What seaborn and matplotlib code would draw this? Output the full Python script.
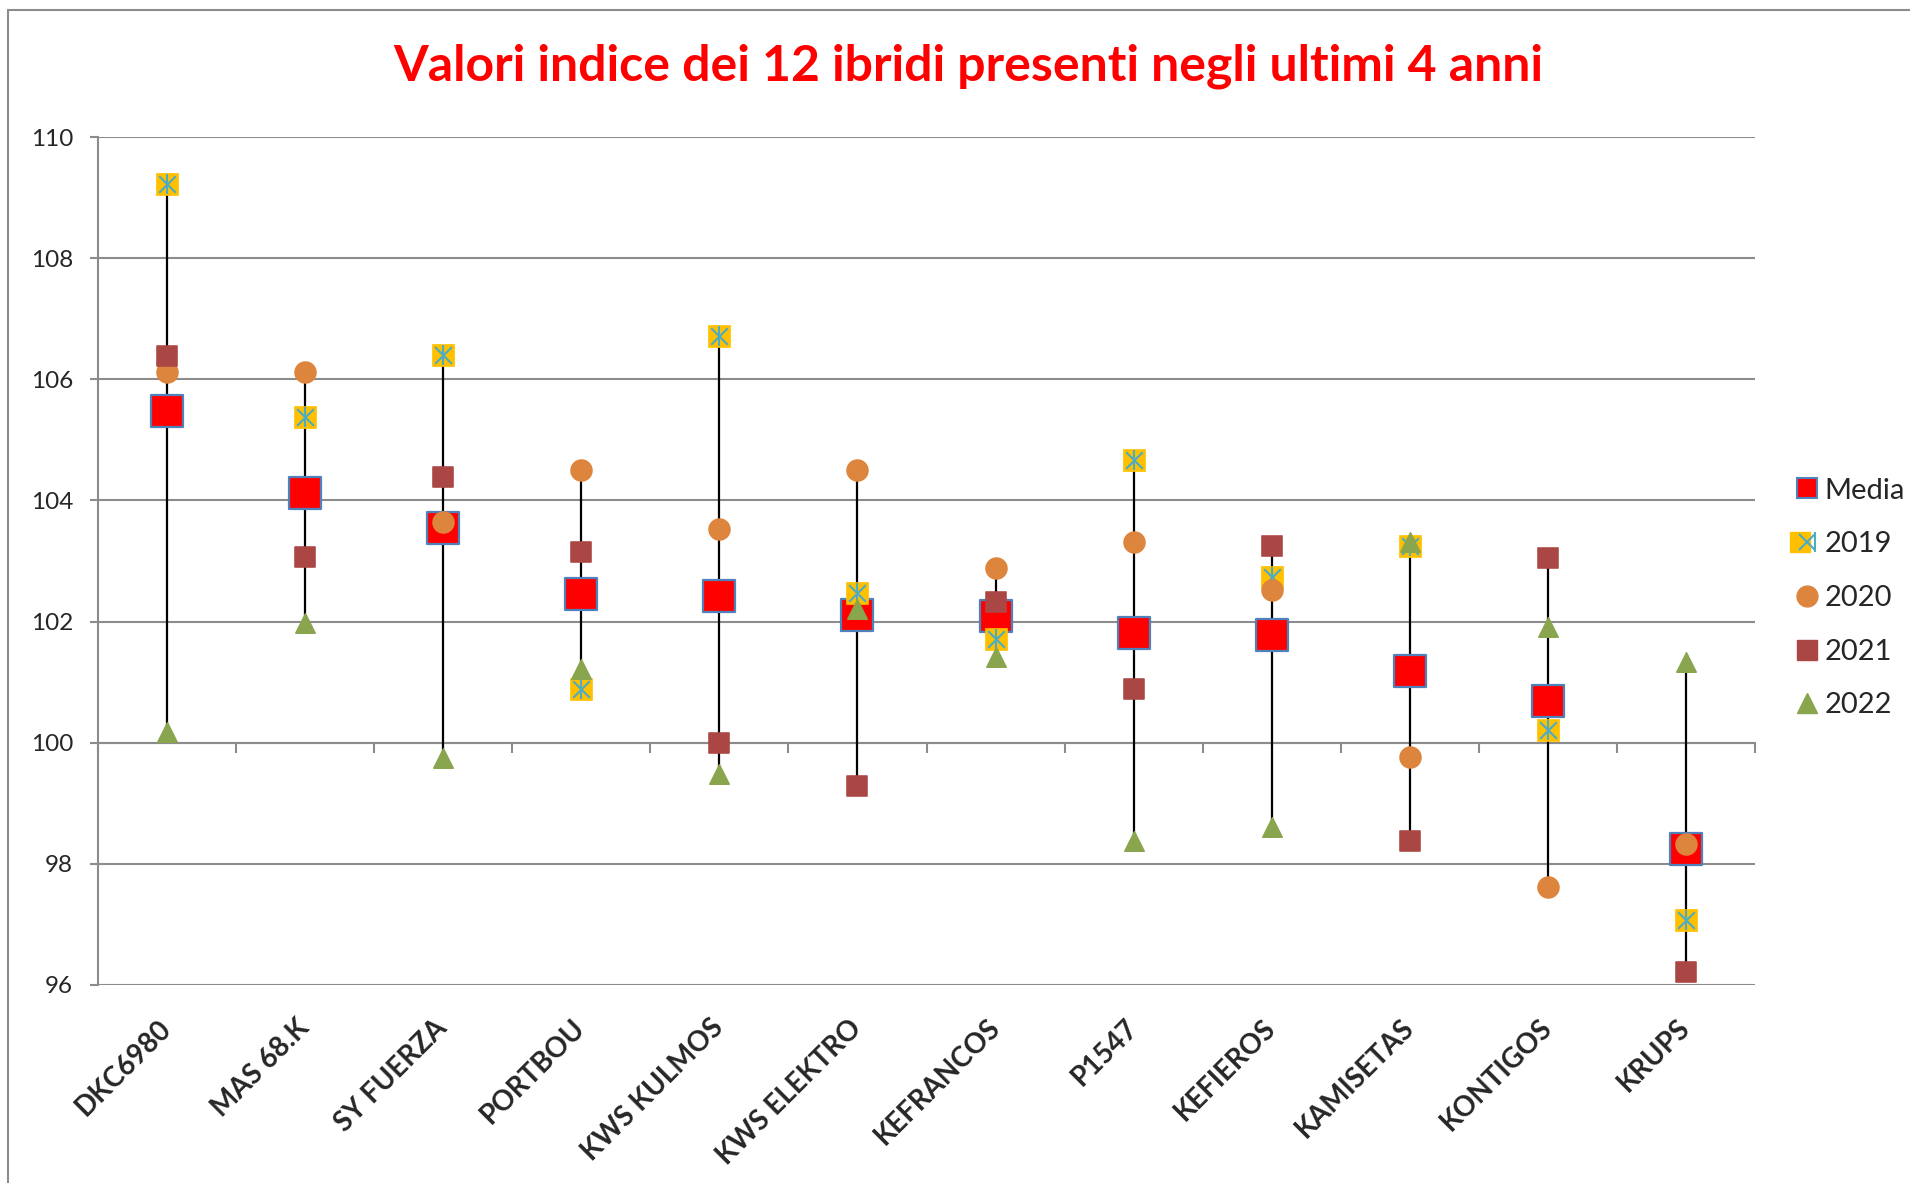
import numpy as np
import pandas as pd
import seaborn as sns
import matplotlib.pyplot as plt
from matplotlib.lines import Line2D
from matplotlib.legend_handler import HandlerTuple

# ------------------------------------------------------------
# Dati
# ------------------------------------------------------------
ibridi = ['DKC6980', 'MAS 68.K', 'SY FUERZA', 'PORTBOU', 'KWS KULMOS', 'KWS ELEKTRO',
          'KEFRANCOS', 'P1547', 'KEFIEROS', 'KAMISETAS', 'KONTIGOS', 'KRUPS']
media = [105.48, 104.13, 103.55, 102.45, 102.42, 102.11,
         102.09, 101.81, 101.78, 101.19, 100.69, 98.24]
v2019 = [109.23, 105.37, 106.40, 100.88, 106.71, 102.47,
         101.72, 104.67, 102.74, 103.25, 100.21, 97.08]
v2020 = [106.12, 106.12, 103.64, 104.50, 103.53, 104.51,
         102.89, 103.31, 102.52, 99.77, 97.62, 98.33]
v2021 = [106.39, 103.06, 104.39, 103.15, 99.99, 99.29,
         102.32, 100.88, 103.25, 98.38, 103.05, 96.22]
v2022 = [100.18, 101.97, 99.74, 101.21, 99.48, 102.21,
         101.42, 98.37, 98.61, 103.32, 101.91, 101.33]

df = pd.DataFrame({'ibrido': ibridi, 'Media': media, '2019': v2019,
                   '2020': v2020, '2021': v2021, '2022': v2022})
df['pos'] = np.arange(len(df))
anni = ['2019', '2020', '2021', '2022']
df['min'] = df[anni].min(axis=1)
df['max'] = df[anni].max(axis=1)

sns.set_style('white')
plt.rcParams['font.family'] = ['Lato', 'DejaVu Sans']

GRIGIO = '#8c8c8c'
fig = plt.figure(figsize=(19.1, 11.83), dpi=100)
ax = fig.add_axes([98/1910, 1 - 985/1183, (1755 - 98)/1910, (985 - 137)/1183])

# linee min-max
ax.vlines(df['pos'], df['min'], df['max'], color='black', linewidth=1.6, zorder=2)

# serie
sns.scatterplot(data=df, x='pos', y='Media', marker='s', s=23**2, color='#ff0000',
                edgecolor='#4f81bd', linewidth=1.6, ax=ax, zorder=3, legend=False)
sns.scatterplot(data=df, x='pos', y='2019', marker='s', s=16**2, color='#ffc000',
                edgecolor='#ffc000', linewidth=0.5, ax=ax, zorder=4, legend=False)
sns.scatterplot(data=df, x='pos', y='2019', marker='x', s=12**2, color='#4bacc6',
                linewidth=1.5, ax=ax, zorder=4, legend=False)
sns.scatterplot(data=df, x='pos', y='2019', marker='|', s=15**2, color='#4bacc6',
                linewidth=1.5, ax=ax, zorder=4, legend=False)
sns.scatterplot(data=df, x='pos', y='2020', marker='o', s=15**2, color='#dd843d',
                edgecolor='#dd843d', ax=ax, zorder=5, legend=False)
sns.scatterplot(data=df, x='pos', y='2021', marker='s', s=14.5**2, color='#aa4643',
                edgecolor='#aa4643', ax=ax, zorder=6, legend=False)
sns.scatterplot(data=df, x='pos', y='2022', marker='^', s=14**2, color='#89a54e',
                edgecolor='#89a54e', ax=ax, zorder=7, legend=False)

# assi
ax.set_xlim(-0.5, len(ibridi) - 0.5)
ax.set_ylim(96, 110)
ax.set_yticks(np.arange(96, 111, 2))
ax.yaxis.grid(True, color=GRIGIO, linewidth=1.5)
ax.set_axisbelow(True)
for s in ['top', 'right', 'bottom']:
    ax.spines[s].set_visible(False)
ax.spines['left'].set_color(GRIGIO)
ax.spines['left'].set_linewidth(1.5)
ax.tick_params(axis='y', left=True, length=6, width=1.5, color=GRIGIO,
               labelsize=17.5, pad=12)
ax.set_xticks(df['pos'])
ax.set_xticklabels(ibridi, rotation=45, ha='right', va='center',
                   rotation_mode='anchor', fontsize=20, fontweight='bold')
ax.tick_params(axis='x', bottom=False, length=0, pad=28)
ax.set_xlabel('')
ax.set_ylabel('')

# asse orizzontale a quota 100 con tacche tra le categorie
sec = ax.secondary_xaxis((100 - 96) / 14)
sec.set_xticks(np.arange(-0.5, len(ibridi), 1.0))
sec.set_xticklabels([])
sec.tick_params(axis='x', direction='out', length=7, width=1.5, color=GRIGIO)
sec.spines['bottom'].set_color(GRIGIO)
sec.spines['bottom'].set_linewidth(1.5)

# titolo
fig.text(968/1910, 1 - 66/1183, 'Valori indice dei 12 ibridi presenti negli ultimi 4 anni',
         ha='center', va='center', color='#ff0000', fontsize=36, fontweight='bold')

# legenda
h_media = Line2D([], [], marker='s', ls='', ms=15, mfc='#ff0000', mec='#4f81bd', mew=1.5)
h19 = (Line2D([], [], marker='s', ls='', ms=15, mfc='#ffc000', mec='#ffc000'),
       Line2D([], [], marker='x', ls='', ms=12, mec='#4bacc6', mew=1.5),
       Line2D([], [], marker='|', ls='', ms=15, mec='#4bacc6', mew=1.5))
h20 = Line2D([], [], marker='o', ls='', ms=15, mfc='#dd843d', mec='#dd843d')
h21 = Line2D([], [], marker='s', ls='', ms=15, mfc='#aa4643', mec='#aa4643')
h22 = Line2D([], [], marker='^', ls='', ms=15, mfc='#89a54e', mec='#89a54e')
fig.legend([h_media, h19, h20, h21, h22], ['Media', '2019', '2020', '2021', '2022'],
           handler_map={tuple: HandlerTuple(ndivide=None, pad=0)},
           loc='center left', bbox_to_anchor=(1784/1910, 1 - 598/1183),
           frameon=False, fontsize=21, handlelength=0.8, handletextpad=0.2,
           labelspacing=0.95, borderaxespad=0)

# bordo dell'area grafico
fig.add_artist(Line2D([8/1910, 1], [1 - 10/1183, 1 - 10/1183], color=GRIGIO, lw=1.5))
fig.add_artist(Line2D([8/1910, 8/1910], [0, 1 - 10/1183], color=GRIGIO, lw=1.5))

fig.savefig('out.png', dpi=100, facecolor='white')
